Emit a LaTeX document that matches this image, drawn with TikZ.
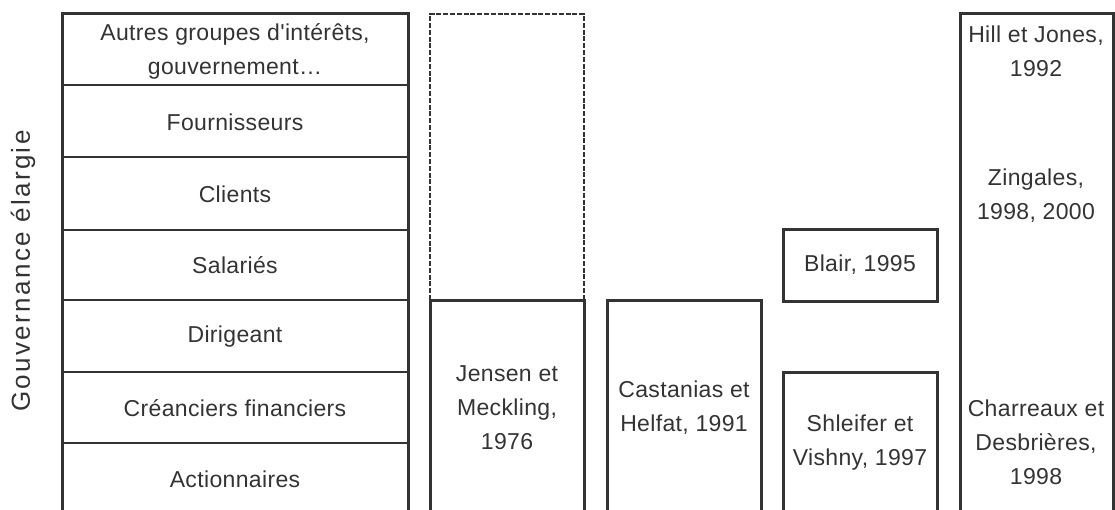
\documentclass[tikz,border=0pt]{standalone}
\usepackage{fontspec}
\setmainfont{Liberation Sans}
\newfontfamily\lblfont[LetterSpace=1.5]{Liberation Sans}
\newfontfamily\sidefont[LetterSpace=9]{Liberation Sans}
\definecolor{ink}{HTML}{333333}
\definecolor{txt}{HTML}{333333}
\begin{document}
\begin{tikzpicture}[x=1pt,y=-1pt,
  frame/.style={draw=ink,line width=3pt},
  divider/.style={draw=ink,line width=2.8pt},
  dashedframe/.style={draw=ink,line width=2pt,dash pattern=on 5pt off 1.8pt},
  lbl/.style={text=txt,font=\lblfont\fontsize{23}{34}\selectfont,align=center,inner sep=0pt}]
\useasboundingbox (0,0) rectangle (1115,510);
% left column
\draw[frame] (62,512) -- (62,14) -- (408,14) -- (408,512);
\foreach \yy in {85,157,230,300,372,443} \draw[divider] (62,\yy) -- (408,\yy);
% dashed + Jensen
\draw[dashedframe] (430,300) -- (430,14) -- (584,14) -- (584,300);
\draw[frame] (430,512) -- (430,300) -- (584,300) -- (584,512);
% Castanias
\draw[frame] (607,512) -- (607,300) -- (761,300) -- (761,512);
% Blair
\draw[frame] (783,230) rectangle (937,301);
% Shleifer
\draw[frame] (783,512) -- (783,372) -- (937,372) -- (937,512);
% right column
\draw[frame] (960,512) -- (960,14) -- (1113,14) -- (1113,512);
% texts
\node[lbl] (autres) at (235,51) {Autres groupes d'intérêts,\\gouvernement…};
\node[lbl] (fourn) at (235,122) {Fournisseurs};
\node[lbl] (clients) at (235,194) {Clients};
\node[lbl] (salaries) at (235,265) {Salariés};
\node[lbl] (dirigeant) at (235,337) {Dirigeant};
\node[lbl] (creanciers) at (235,408) {Créanciers financiers};
\node[lbl] (action) at (235,479) {Actionnaires};
\node[lbl] (jensen) at (507,408) {Jensen et\\Meckling,\\1976};
\node[lbl] (castanias) at (684,408) {Castanias et\\Helfat, 1991};
\node[lbl] (blair) at (860,265) {Blair, 1995};
\node[lbl] (shleifer) at (860,443) {Shleifer et\\Vishny, 1997};
\node[lbl] (hill) at (1036,51) {Hill et Jones,\\1992};
\node[lbl] (zingales) at (1036,196) {Zingales,\\1998, 2000};
\node[lbl] (charreaux) at (1036,442) {Charreaux et\\Desbrières,\\1998};
\node[text=txt,inner sep=0pt,font=\sidefont\fontsize{26}{30}\selectfont,rotate=90] (gouv) at (23,271) {Gouvernance élargie};
\end{tikzpicture}
\end{document}
